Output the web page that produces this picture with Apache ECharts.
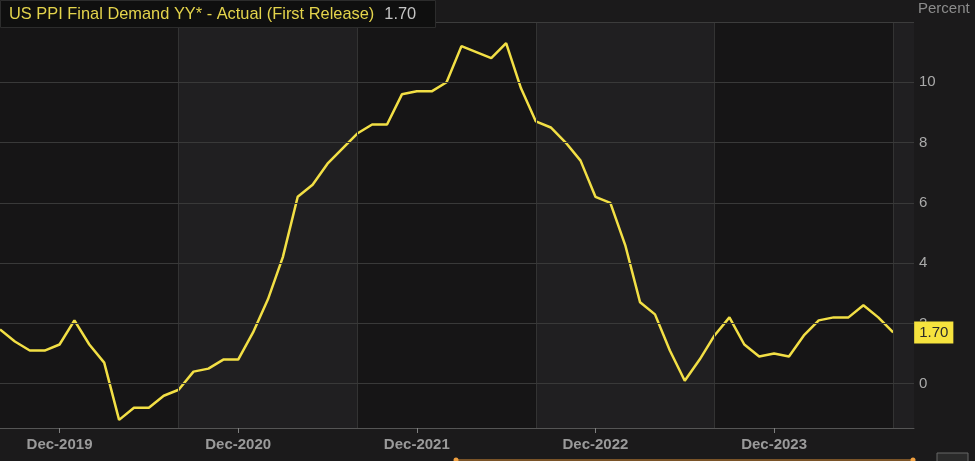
<!DOCTYPE html>
<html>
<head>
<meta charset="utf-8">
<script src="https://cdn.jsdelivr.net/npm/echarts@6/dist/echarts.min.js"></script>
<style>
  html, body { margin: 0; padding: 0; background: #1b1a1b; }
  #chart { width: 975px; height: 461px; }
</style>
</head>
<body>
<div id="chart"></div>
<script>
// monthly PPI final demand y/y, Aug-2019 .. Aug-2024 (index 0 = Aug-2019)
var ppiValues = [
  1.8, 1.4, 1.1, 1.1, 1.3,
  2.1, 1.3, 0.7, -1.2, -0.8, -0.8, -0.4, -0.2, 0.4, 0.5, 0.8, 0.8,
  1.7, 2.8, 4.2, 6.2, 6.6, 7.3, 7.8, 8.3, 8.6, 8.6, 9.6, 9.7,
  9.7, 10.0, 11.2, 11.0, 10.8, 11.3, 9.8, 8.7, 8.5, 8.0, 7.4, 6.2,
  6.0, 4.6, 2.7, 2.3, 1.1, 0.1, 0.8, 1.6, 2.2, 1.3, 0.9, 1.0,
  0.9, 1.6, 2.1, 2.2, 2.2, 2.6, 2.2, 1.7
];
var tickIdx = [4, 16, 28, 40, 52];
var tickLabels = ['Dec-2019', 'Dec-2020', 'Dec-2021', 'Dec-2022', 'Dec-2023'];
var yTicks = [0, 2, 4, 6, 8, 10];
// year bands start every August
var bandEdges = [0, 12, 24, 36, 48, 60, 61.4];

var chart = echarts.init(document.getElementById('chart'));

var lineData = [];
for (var i = 0; i < ppiValues.length; i++) {
  lineData.push([i, ppiValues[i]]);
}

var bands = [];
for (var b = 0; b < bandEdges.length - 1; b++) {
  bands.push([
    { xAxis: bandEdges[b], itemStyle: { color: b % 2 == 0 ? '#161516' : '#201f21' } },
    { xAxis: bandEdges[b + 1] }
  ]);
}
var seps = [];
for (var s = 1; s < bandEdges.length - 1; s++) {
  seps.push({ xAxis: bandEdges[s] });
}

var fontFam = 'Liberation Sans, Arial, sans-serif';

var option = {
  backgroundColor: '#1b1a1b',
  animation: false,
  textStyle: { fontFamily: fontFam },
  title: [
    {
      text: '{a|US PPI Final Demand YY* - Actual (First Release)}  {b|' + ppiValues[ppiValues.length - 1].toFixed(2) + '}',
      left: 0,
      top: 0,
      padding: [5, 20, 5, 9],
      backgroundColor: '#0f0f0f',
      borderColor: '#2c2c2c',
      borderWidth: 1,
      textStyle: {
        fontWeight: 'normal',
        rich: {
          a: { color: '#e4d44c', fontSize: 16.4, fontWeight: 'normal', fontFamily: fontFam },
          b: { color: '#c4c4c4', fontSize: 16.4, fontWeight: 'normal', fontFamily: fontFam }
        }
      }
    },
    {
      text: 'Percent',
      left: 918,
      top: 1,
      padding: 0,
      textStyle: { color: '#8c8c8c', fontSize: 15, fontWeight: 'normal', fontFamily: fontFam }
    }
  ],
  grid: { left: 0, right: 61, top: 22, bottom: 33, outerBoundsMode: 'none' },
  xAxis: {
    type: 'value',
    min: 0,
    max: 61.4,
    axisLine: { show: true, onZero: false, lineStyle: { color: '#555' } },
    axisTick: { show: true, customValues: tickIdx, length: 5, lineStyle: { color: '#808080' } },
    axisLabel: {
      customValues: tickIdx,
      color: '#9a9a9a',
      fontSize: 15,
      fontWeight: 'bold',
      margin: 9,
      formatter: function (v) {
        var k = tickIdx.indexOf(Math.round(v));
        return k >= 0 ? tickLabels[k] : '';
      }
    },
    splitLine: { show: false }
  },
  yAxis: {
    type: 'value',
    position: 'right',
    min: -1.47,
    max: 12,
    axisLine: { show: true, lineStyle: { color: '#4a4a4a' } },
    axisTick: { show: false },
    axisLabel: {
      customValues: yTicks,
      color: '#aaa',
      fontSize: 15,
      margin: 5
    },
    splitLine: { show: false }
  },
  series: [
    {
      type: 'line',
      data: lineData,
      showSymbol: false,
      silent: true,
      lineStyle: { color: '#f2df45', width: 2.5 },
      itemStyle: { color: '#f2df45' },
      endLabel: {
        show: true,
        distance: 21,
        formatter: function (p) { return p.value[1].toFixed(2); },
        backgroundColor: '#f6e33e',
        color: '#2a2a2a',
        fontSize: 15,
        padding: [4, 5, 3, 5]
      },
      markArea: { silent: true, data: bands },
      markLine: {
        silent: true,
        symbol: 'none',
        label: { show: false },
        lineStyle: { color: '#333', type: 'solid', width: 1 },
        data: seps.concat(yTicks.map(function (v) { return { yAxis: v, lineStyle: { color: '#393939' } }; }))
          .concat([{ yAxis: 12, lineStyle: { color: '#3c3c3c' } }])
      }
    }
  ],
  graphic: [
    { type: 'line', shape: { x1: 456, y1: 460, x2: 913, y2: 460 }, style: { stroke: '#7a5428', lineWidth: 2 } },
    { type: 'circle', shape: { cx: 456, cy: 460, r: 2.5 }, style: { fill: '#f0a040' } },
    { type: 'circle', shape: { cx: 913, cy: 460, r: 2.5 }, style: { fill: '#f0a040' } },
    { type: 'rect', shape: { x: 937, y: 453, width: 31, height: 12 }, style: { fill: '#2a2a2a', stroke: '#666', lineWidth: 1 } }
  ]
};

chart.setOption(option);
</script>
</body>
</html>
